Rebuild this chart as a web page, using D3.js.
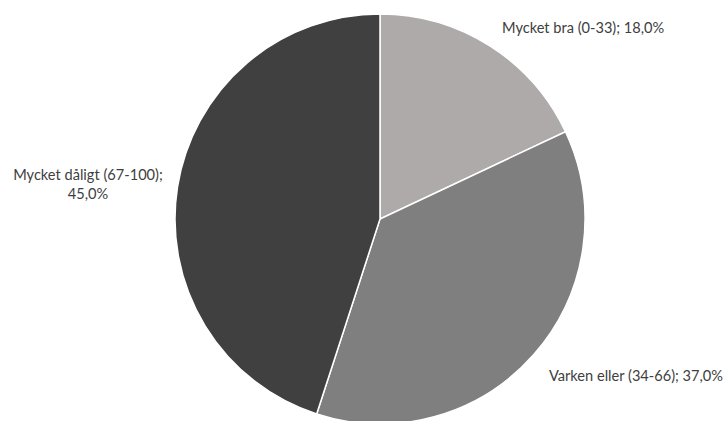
<!DOCTYPE html>
<html>
<head>
<meta charset="utf-8">
<script src="https://cdn.jsdelivr.net/npm/d3@7"></script>
<style>
  html, body { margin: 0; padding: 0; background: #fff; }
  svg { display: block; }
  text { font-family: Lato, "Open Sans", sans-serif; font-size: 14.6px; fill: #404040; }
</style>
</head>
<body>
<svg id="chart" width="724" height="421"></svg>
<script>
const categories = ["Mycket bra (0-33)", "Varken eller (34-66)", "Mycket dåligt (67-100)"];
const shares = [18.0, 37.0, 45.0];
const colors = ["#AEAAAA", "#7F7F7F", "#404040"];
// label lines per slice (wrapped where the label would hit the chart)
const labelLines = [
  ["Mycket bra (0-33); 18,0%"],
  ["Varken eller (34-66); 37,0%"],
  ["Mycket dåligt (67-100);", "45,0%"]
];

const svg = d3.select("#chart");
const cx = 380, cy = 219, radius = 205;

const data = categories.map((c, i) => ({ name: c, value: shares[i], color: colors[i], lines: labelLines[i] }));

const pie = d3.pie().value(d => d.value).sort(null);
const arc = d3.arc().innerRadius(0).outerRadius(radius);
const arcs = pie(data);

const g = svg.append("g").attr("transform", `translate(${cx},${cy})`);

g.selectAll("path")
  .data(arcs)
  .join("path")
  .attr("d", arc)
  .attr("fill", d => d.data.color)
  .attr("stroke", "#fff")
  .attr("stroke-width", 1.5);

// label anchors set outside the pie
const labelPos = [
  { x: 502, y: 33, anchor: "start" },
  { x: 549, y: 381, anchor: "start" },
  { x: 88, y: 180, anchor: "middle" }
];

const labels = svg.append("g");
arcs.forEach((a, i) => {
  const p = labelPos[i];
  const t = labels.append("text")
    .attr("x", p.x)
    .attr("y", p.y)
    .attr("text-anchor", p.anchor);
  a.data.lines.forEach((ln, j) => {
    t.append("tspan").attr("x", p.x).attr("dy", j === 0 ? 0 : 19).text(ln);
  });
});
</script>
</body>
</html>
